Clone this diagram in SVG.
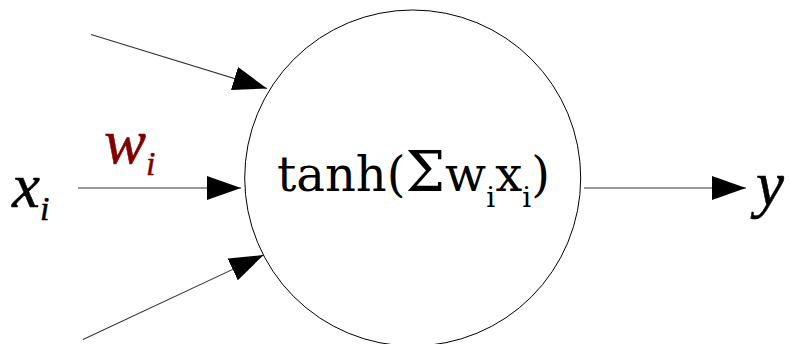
<svg xmlns="http://www.w3.org/2000/svg" width="791" height="344" viewBox="0 0 791 344">
<defs>
<marker id="ah" markerWidth="34" markerHeight="24" refX="34" refY="12" orient="auto" markerUnits="userSpaceOnUse">
<path d="M0,0 L34,12 L0,24 Z" fill="#000"/>
</marker>
<style>
.lbl{font-family:"Liberation Serif","Times New Roman",serif;font-style:italic;stroke-width:0.5;}
.c{stroke:#333;stroke-width:1.1;fill:none;marker-end:url(#ah);}
</style>
</defs>
<rect width="791" height="344" fill="#fff"/>
<g id="connectors">
<line class="c" x1="91" y1="34.5" x2="267" y2="88.5"/>
<line class="c" x1="78" y1="188" x2="241" y2="188"/>
<line class="c" x1="83" y1="339.5" x2="263.5" y2="255"/>
<line class="c" x1="584" y1="188" x2="746" y2="188"/>
</g>
<g id="neuron">
<circle cx="412.7" cy="178" r="168" fill="#fff" stroke="#000" stroke-width="1"/>
<text x="277" y="191" font-family="DejaVu Serif,serif" font-size="48" fill="#000">tanh(<tspan font-size="56">Σ</tspan>w<tspan font-size="28" dy="16">i</tspan><tspan dy="-16">x</tspan><tspan font-size="28" dy="16">i</tspan><tspan dy="-16">)</tspan></text>
</g>
<g id="input">
<text class="lbl" x="12" y="207" font-size="63" fill="#000" stroke="#000">x<tspan font-size="34" dy="13">i</tspan></text>
</g>
<g id="weight">
<text class="lbl" x="104" y="163" font-size="63" fill="#800000" stroke="#800000">w<tspan font-size="34" dy="12">i</tspan></text>
</g>
<g id="output">
<text class="lbl" x="756" y="205" font-size="63" fill="#000" stroke="#000">y</text>
</g>
</svg>
